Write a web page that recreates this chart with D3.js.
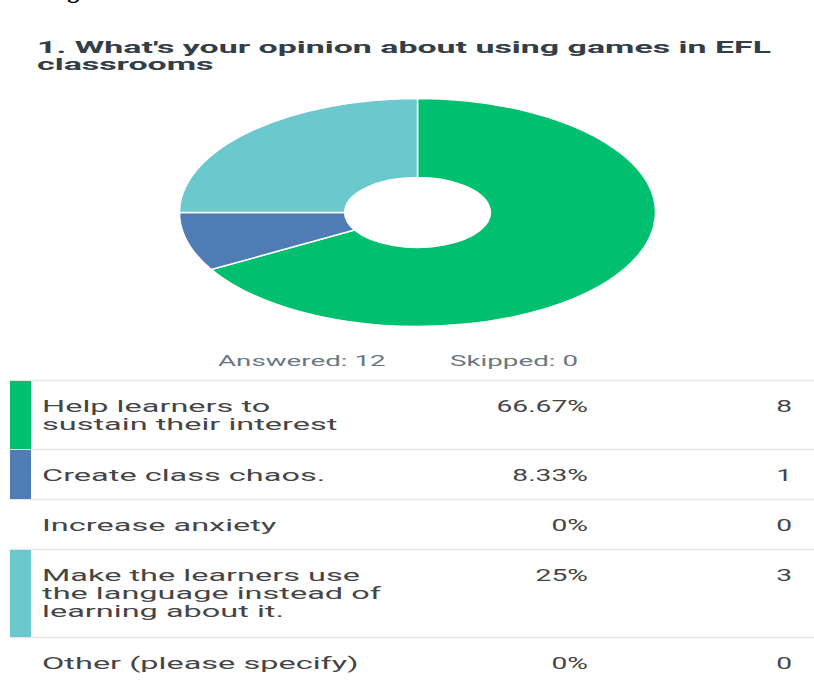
<!DOCTYPE html>
<html>
<head>
<meta charset="utf-8">
<script src="https://cdn.jsdelivr.net/npm/d3@7"></script>
<style>
  html, body { margin: 0; padding: 0; background: #fff; }
  svg { display: block; }
</style>
</head>
<body>
<svg id="chart" width="814" height="680"></svg>
<script>
// ---- data ----
const title = ["1. What's your opinion about using games in EFL", "classrooms"];
const categories = [
  ["Help learners to", "sustain their interest"],
  ["Create class chaos."],
  ["Increase anxiety"],
  ["Make the learners use", "the language instead of", "learning about it."],
  ["Other (please specify)"]
];
const counts = [8, 1, 0, 3, 0];
const skipped = 0;
const colors = ["#00bf6f", "#507cb6", "#f9be00", "#6bc8cd", "#d25f90"];

// ---- layout ----
const W = 814, H = 680;
const svg = d3.select("#chart");
const font = "Roboto, 'Noto Sans', sans-serif";
const sxTitle = 2.12, sxBody = 1.97, sxNum = 1.71, sxMeta = 1.79;

function addText(g, x, y, str, o) {
  return g.append("text")
    .attr("transform", `translate(${x},${y}) scale(${o.sx},1)`)
    .attr("text-anchor", o.anchor || "start")
    .attr("font-family", font)
    .attr("font-size", o.size)
    .attr("font-weight", o.weight || 400)
    .attr("fill", o.fill)
    .text(str);
}

// cropped caption descender at the very top (from the source page)
svg.append("text").attr("x", 46).attr("y", -2.5)
  .attr("font-family", "'Liberation Serif', serif").attr("font-weight", 700)
  .attr("font-size", 24).attr("fill", "#000").text("Fig");

// title
title.forEach((t, i) => addText(svg, 37, 53 + i * 17, t,
  { sx: sxTitle, size: 16, weight: 700, fill: "#333e48" }));

// donut (elliptical)
const total = d3.sum(counts);
const pie = d3.pie().sort(null).value(d => d)(counts);
const arc = d3.arc().innerRadius(30.6).outerRadius(100);
const cx = 417.5, cy = 212.5, rx = 238, ry = 114;
const gPie = svg.append("g")
  .attr("transform", `translate(${cx},${cy}) scale(${rx / 100},${ry / 100})`);
gPie.selectAll("path").data(pie.filter(d => d.value > 0)).join("path")
  .attr("d", arc)
  .attr("fill", d => colors[d.index])
  .attr("stroke", "#fff")
  .attr("stroke-width", 1.5)
  .attr("vector-effect", "non-scaling-stroke");

// answered / skipped
addText(svg, 218, 366, "Answered: " + total, { sx: sxMeta, size: 15.5, fill: "#6b787f" });
addText(svg, 450, 366, "Skipped: " + skipped, { sx: sxMeta, size: 15.5, fill: "#6b787f" });

// table
const tableTop = 380, baseRow = 50, extraLine = 19, lineGap = 18;
const fmtPct = v => d3.format(".2~f")(v * 100) + "%";
let y = tableTop;
const rows = categories.map((lines, i) => {
  const h = baseRow + extraLine * (lines.length - 1);
  const r = { lines, i, top: y, h };
  y += h;
  return r;
});
const gT = svg.append("g");
rows.forEach(r => {
  gT.append("line").attr("x1", 10).attr("x2", W).attr("y1", r.top + 0.5).attr("y2", r.top + 0.5)
    .attr("stroke", "#e6e6e6").attr("stroke-width", 1.5);
});
rows.forEach(r => {
  if (counts[r.i] > 0) {
    gT.append("rect").attr("x", 10).attr("y", r.top + 1).attr("width", 21).attr("height", r.h - 1)
      .attr("fill", colors[r.i]);
  }
  const base = r.top + 32;
  r.lines.forEach((t, k) => addText(gT, 42, base + k * lineGap, t,
    { sx: sxBody, size: 16.5, fill: "#454545" }));
  addText(gT, 588, base, fmtPct(counts[r.i] / total), { sx: sxNum, size: 16.5, fill: "#454545", anchor: "end" });
  addText(gT, 792, base, String(counts[r.i]), { sx: sxNum, size: 16.5, fill: "#454545", anchor: "end" });
});
</script>
</body>
</html>
